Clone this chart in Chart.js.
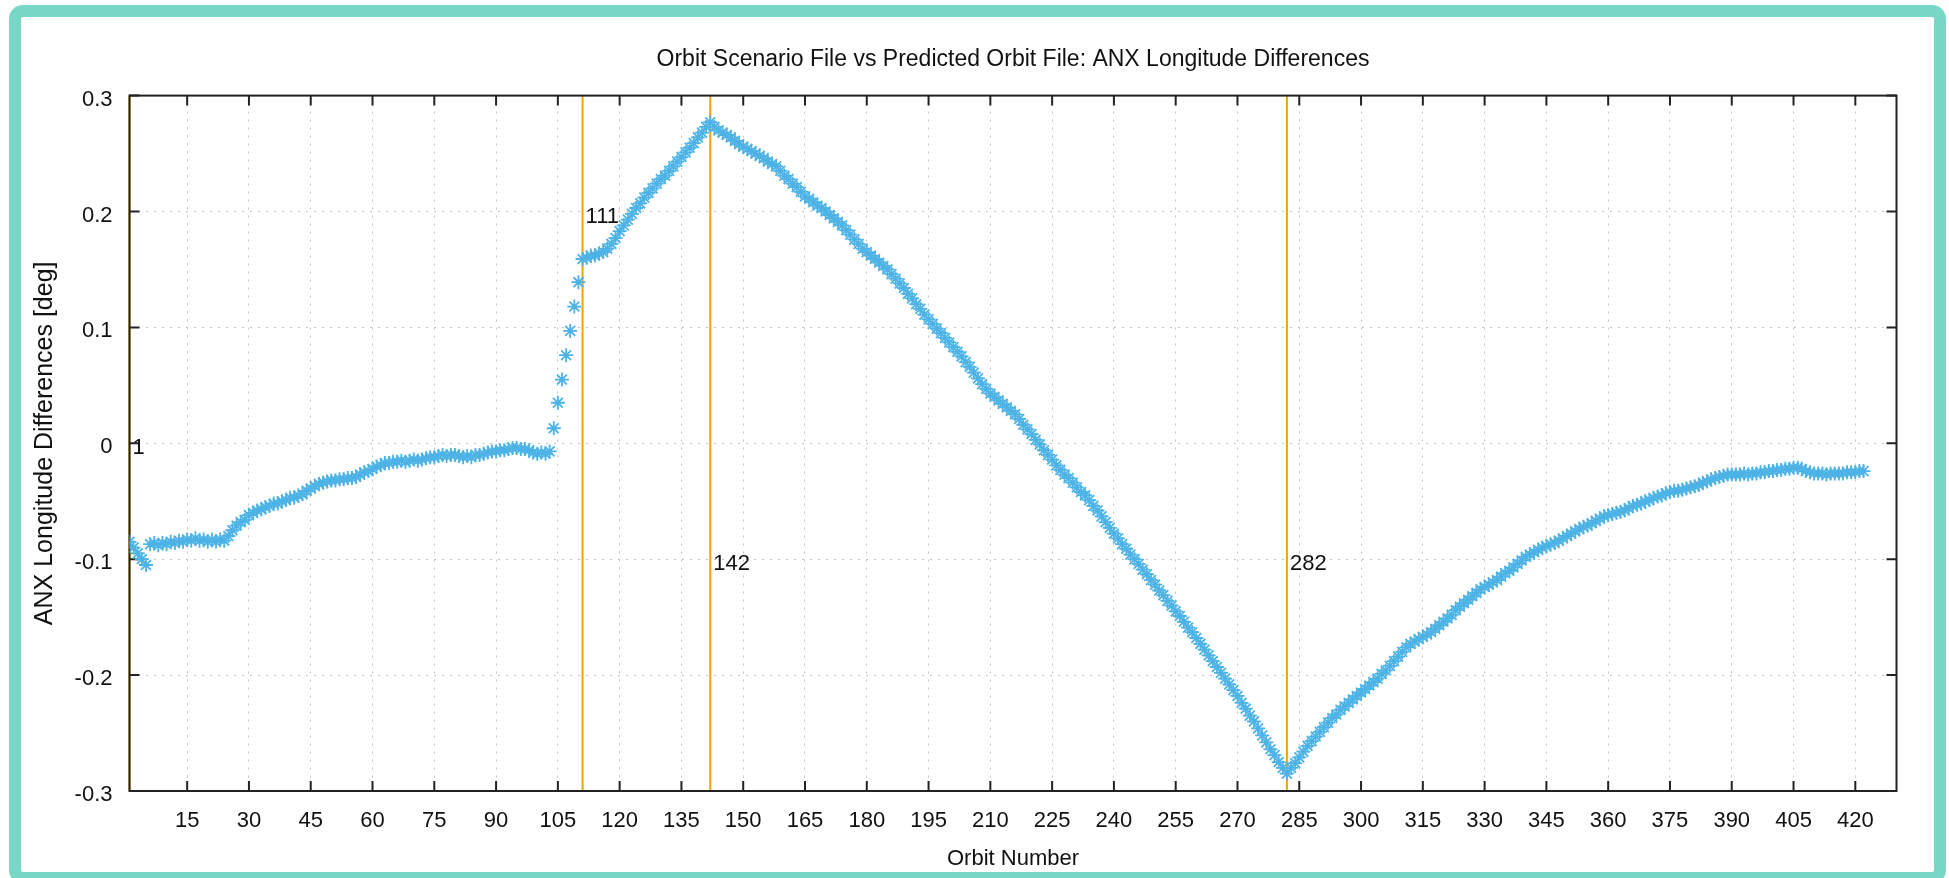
<!DOCTYPE html>
<html>
<head>
<meta charset="utf-8">
<title>ANX Longitude Differences</title>
<script src="https://cdn.jsdelivr.net/npm/chart.js@4.4.0/dist/chart.umd.min.js"></script>
<style>
  html, body { margin: 0; padding: 0; background: #fff; }
  #wrap { position: absolute; left: 0; top: 0; width: 1949px; height: 878px; }
  #frame {
    position: absolute; left: 9px; top: 5px; width: 1937px; height: 879px;
    box-sizing: border-box; border: 12px solid #78d8c5; border-radius: 14px;
    pointer-events: none;
  }
</style>
</head>
<body>
<div id="wrap"><canvas id="myChart"></canvas></div>
<div id="frame"></div>
<script>
// orbit numbers run from firstOrbit upward, one value per orbit
const firstOrbit = 1;
// ANX longitude difference [deg] per orbit
const anxDiff = [
  -0.085, -0.090, -0.095, -0.100, -0.105, -0.087, -0.086, -0.088, -0.086, -0.087, // 1
  -0.085, -0.086, -0.084, -0.085, -0.083, -0.084, -0.082, -0.084, -0.083, -0.085, // 11
  -0.083, -0.085, -0.083, -0.084, -0.080, -0.075, -0.071, -0.068, -0.066, -0.062, // 21
  -0.060, -0.058, -0.057, -0.055, -0.054, -0.052, -0.052, -0.050, -0.049, -0.047, // 31
  -0.047, -0.045, -0.044, -0.041, -0.039, -0.037, -0.035, -0.034, -0.033, -0.032, // 41
  -0.032, -0.031, -0.031, -0.030, -0.030, -0.029, -0.027, -0.025, -0.024, -0.022, // 51
  -0.020, -0.019, -0.017, -0.017, -0.016, -0.016, -0.015, -0.016, -0.015, -0.014, // 61
  -0.015, -0.014, -0.013, -0.012, -0.012, -0.011, -0.010, -0.011, -0.010, -0.010, // 71
  -0.011, -0.012, -0.011, -0.012, -0.010, -0.010, -0.009, -0.008, -0.007, -0.007, // 81
  -0.006, -0.006, -0.005, -0.004, -0.004, -0.005, -0.005, -0.006, -0.008, -0.009, // 91
  -0.008, -0.009, -0.007, 0.013, 0.035, 0.055, 0.076, 0.097, 0.118, 0.139,       // 101
  0.159, 0.160, 0.162, 0.162, 0.164, 0.165, 0.168, 0.172, 0.177, 0.183,           // 111
  0.188, 0.193, 0.198, 0.203, 0.207, 0.212, 0.216, 0.220, 0.224, 0.228,           // 121
  0.231, 0.235, 0.239, 0.243, 0.247, 0.251, 0.255, 0.259, 0.264, 0.268,           // 131
  0.273, 0.277, 0.273, 0.270, 0.268, 0.266, 0.264, 0.261, 0.258, 0.256,           // 141
  0.254, 0.252, 0.250, 0.248, 0.246, 0.243, 0.241, 0.239, 0.235, 0.231,           // 151
  0.228, 0.224, 0.221, 0.217, 0.213, 0.211, 0.208, 0.205, 0.203, 0.200,           // 161
  0.197, 0.194, 0.191, 0.188, 0.184, 0.180, 0.176, 0.172, 0.168, 0.165,           // 171
  0.162, 0.159, 0.156, 0.153, 0.150, 0.146, 0.142, 0.138, 0.134, 0.129,           // 181
  0.125, 0.120, 0.116, 0.111, 0.107, 0.103, 0.099, 0.095, 0.091, 0.087,           // 191
  0.083, 0.079, 0.075, 0.070, 0.066, 0.061, 0.056, 0.051, 0.047, 0.043,           // 201
  0.040, 0.037, 0.034, 0.031, 0.028, 0.025, 0.021, 0.016, 0.012, 0.008,           // 211
  0.003, -0.001, -0.006, -0.010, -0.014, -0.019, -0.023, -0.027, -0.030, -0.034,  // 221
  -0.038, -0.042, -0.045, -0.049, -0.054, -0.058, -0.063, -0.068, -0.073, -0.078, // 231
  -0.082, -0.087, -0.091, -0.096, -0.100, -0.104, -0.109, -0.113, -0.118, -0.122, // 241
  -0.127, -0.131, -0.136, -0.140, -0.145, -0.149, -0.154, -0.159, -0.163, -0.168, // 251
  -0.173, -0.178, -0.183, -0.188, -0.193, -0.198, -0.203, -0.208, -0.213, -0.218, // 261
  -0.224, -0.229, -0.235, -0.240, -0.246, -0.252, -0.258, -0.264, -0.269, -0.275, // 271
  -0.280, -0.285, -0.280, -0.276, -0.271, -0.266, -0.261, -0.257, -0.253, -0.249, // 281
  -0.245, -0.241, -0.237, -0.234, -0.230, -0.227, -0.224, -0.221, -0.218, -0.215, // 291
  -0.212, -0.209, -0.206, -0.203, -0.199, -0.196, -0.192, -0.188, -0.184, -0.180, // 301
  -0.176, -0.173, -0.171, -0.169, -0.167, -0.165, -0.163, -0.160, -0.157, -0.154, // 311
  -0.151, -0.148, -0.144, -0.141, -0.138, -0.135, -0.132, -0.129, -0.126, -0.124, // 321
  -0.122, -0.120, -0.118, -0.115, -0.112, -0.110, -0.107, -0.104, -0.101, -0.098, // 331
  -0.096, -0.094, -0.092, -0.090, -0.089, -0.087, -0.086, -0.084, -0.082, -0.080, // 341
  -0.078, -0.076, -0.074, -0.072, -0.071, -0.069, -0.067, -0.065, -0.063, -0.062, // 351
  -0.061, -0.060, -0.059, -0.058, -0.056, -0.054, -0.053, -0.052, -0.050, -0.049, // 361
  -0.047, -0.046, -0.045, -0.043, -0.042, -0.041, -0.041, -0.040, -0.039, -0.038, // 371
  -0.037, -0.036, -0.034, -0.033, -0.031, -0.030, -0.029, -0.028, -0.027, -0.027, // 381
  -0.027, -0.027, -0.026, -0.027, -0.026, -0.026, -0.025, -0.025, -0.024, -0.024, // 391
  -0.023, -0.023, -0.022, -0.022, -0.021, -0.021, -0.022, -0.024, -0.025, -0.026, // 401
  -0.026, -0.026, -0.027, -0.026, -0.026, -0.026, -0.026, -0.025, -0.025, -0.025, // 411
  -0.024, -0.024                                                                    // 421
];

// axis ticks
const xTicks = [15, 30, 45, 60, 75, 90, 105, 120, 135, 150, 165, 180, 195, 210, 225,
  240, 255, 270, 285, 300, 315, 330, 345, 360, 375, 390, 405, 420];
const yTicks = [-0.3, -0.2, -0.1, 0, 0.1, 0.2, 0.3];
const yTickLabels = ['-0.3', '-0.2', '-0.1', '0', '0.1', '0.2', '0.3'];

// vertical marker lines and where their labels sit
const markerOrbits = [1, 111, 142, 282];
const markerLabelY = [0, 0.2, -0.1, -0.1];

const FONT = '"Liberation Sans", Arial, sans-serif';
const ORANGE = '#f0a30a';
const BLUE = '#4db3e6';
Chart.defaults.font.family = FONT;
Chart.defaults.color = '#111';

// 박스, 안쪽 눈금, 세로선
const framePlugin = {
  id: 'frame',
  beforeDatasetsDraw(chart) {
    const {ctx, chartArea: a, scales: {x, y}} = chart;
    ctx.save();
    ctx.strokeStyle = ORANGE;
    ctx.lineWidth = 2;
    markerOrbits.forEach(function(o) {
      const px = x.getPixelForValue(o);
      ctx.beginPath();
      ctx.moveTo(px, a.top);
      ctx.lineTo(px, a.bottom);
      ctx.stroke();
    });

    ctx.strokeStyle = '#222';
    ctx.lineWidth = 2;
    ctx.strokeRect(a.left, a.top, a.width, a.height);
    ctx.beginPath();
    xTicks.forEach(function(v) {
      const px = x.getPixelForValue(v);
      ctx.moveTo(px, a.bottom); ctx.lineTo(px, a.bottom - 10);
      ctx.moveTo(px, a.top); ctx.lineTo(px, a.top + 10);
    });
    yTicks.forEach(function(v) {
      const py = y.getPixelForValue(v);
      ctx.moveTo(a.left, py); ctx.lineTo(a.left + 10, py);
      ctx.moveTo(a.right, py); ctx.lineTo(a.right - 10, py);
    });
    ctx.stroke();

    ctx.fillStyle = '#111';
    ctx.font = '22px ' + FONT;
    ctx.textAlign = 'left';
    ctx.textBaseline = 'middle';
    markerOrbits.forEach(function(o, i) {
      ctx.fillText(String(o), x.getPixelForValue(o) + 3, y.getPixelForValue(markerLabelY[i]) + 5);
    });
    ctx.restore();
  }
};

const points = anxDiff.map(function(v, i) {
  return {x: firstOrbit + i, y: v};
});

const config = {
  type: 'scatter',
  data: {
    datasets: [{
      label: 'ANX Longitude Differences',
      data: points,
      pointStyle: 'star',
      pointRadius: 7,
      borderWidth: 1.8,
      borderColor: BLUE,
      backgroundColor: BLUE
    }]
  },
  options: {
    responsive: true,
    maintainAspectRatio: false,
    animation: false,
    layout: {padding: {left: 0, right: 52.5, top: 0, bottom: 0}},
    plugins: {
      legend: {display: false},
      tooltip: {enabled: false},
      title: {
        display: true,
        fullSize: false,
        text: 'Orbit Scenario File vs Predicted Orbit File: ANX Longitude Differences',
        font: {size: 23, weight: 'normal'},
        color: '#111',
        padding: {top: 46, bottom: 22}
      }
    },
    scales: {
      x: {
        type: 'linear',
        min: 1,
        max: 430,
        afterBuildTicks: function(s) { s.ticks = xTicks.map(function(v) { return {value: v}; }); },
        afterFit: function(s) { s.height = 87; },
        ticks: {font: {size: 22}, color: '#111', padding: 17, maxRotation: 0, autoSkip: false},
        grid: {color: '#c4c4c4', lineWidth: 1, drawTicks: false},
        border: {display: false, dash: [2, 6]},
        title: {display: true, text: 'Orbit Number', font: {size: 22}, color: '#111', padding: {top: 0, bottom: 6}}
      },
      y: {
        min: -0.3,
        max: 0.3,
        afterBuildTicks: function(s) { s.ticks = yTicks.map(function(v) { return {value: v}; }); },
        afterFit: function(s) { s.width = 129.5; },
        ticks: {
          font: {size: 22}, color: '#111', padding: 17, labelOffset: 4,
          callback: function(v, i) { return yTickLabels[i]; }
        },
        grid: {color: '#c4c4c4', lineWidth: 1, drawTicks: false},
        border: {display: false, dash: [2, 6]},
        title: {display: true, text: 'ANX Longitude Differences [deg]', font: {size: 25}, color: '#111', padding: {top: 30, bottom: 0}}
      }
    }
  },
  plugins: [framePlugin]
};

const myChart = new Chart(document.getElementById('myChart'), config);
</script>
</body>
</html>
